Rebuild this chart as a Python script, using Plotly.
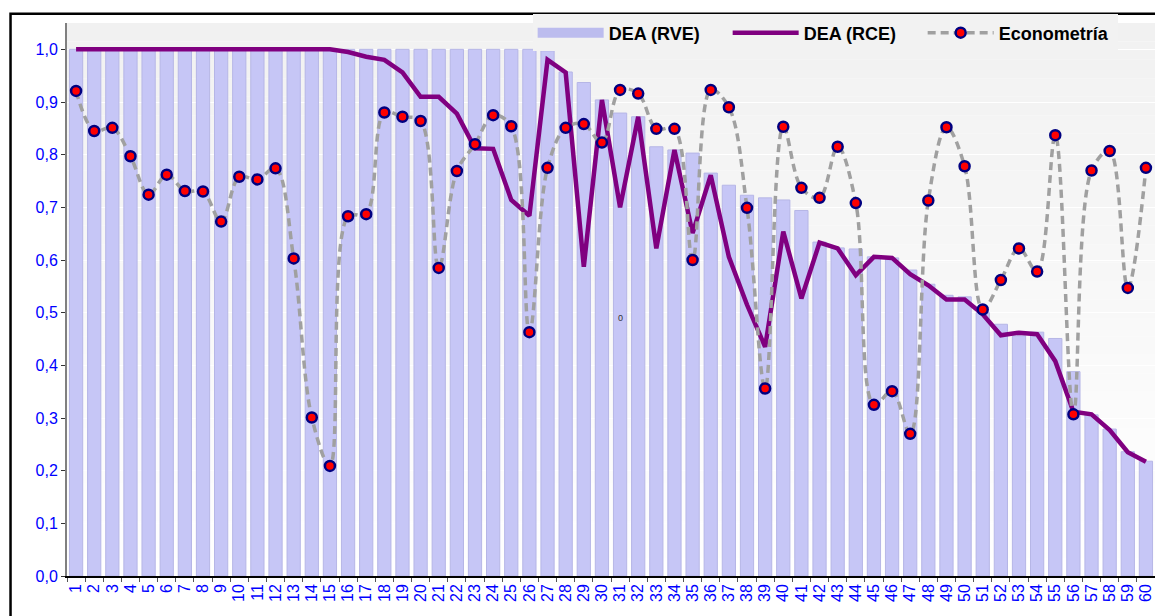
import plotly.graph_objects as go

# Unit index (1..60)
units = [str(i) for i in range(1, 61)]

# DEA efficiency scores, variable returns to scale
dea_rve = [1.000, 1.000, 1.000, 1.000, 1.000, 1.000, 1.000, 1.000, 1.000, 1.000,
           1.000, 1.000, 1.000, 1.000, 1.000, 1.000, 1.000, 1.000, 1.000, 1.000,
           1.000, 1.000, 1.000, 1.000, 1.000, 1.000, 0.997, 0.957, 0.937, 0.904,
           0.879, 0.872, 0.815, 0.809, 0.803, 0.765, 0.742, 0.723, 0.718, 0.714,
           0.694, 0.634, 0.623, 0.621, 0.606, 0.604, 0.581, 0.554, 0.533, 0.530,
           0.500, 0.478, 0.456, 0.463, 0.451, 0.388, 0.306, 0.279, 0.236, 0.218]

# DEA efficiency scores, constant returns to scale
dea_rce = [1.000, 1.000, 1.000, 1.000, 1.000, 1.000, 1.000, 1.000, 1.000, 1.000,
           1.000, 1.000, 1.000, 1.000, 1.000, 0.995, 0.986, 0.980, 0.956, 0.910,
           0.910, 0.878, 0.812, 0.811, 0.714, 0.684, 0.980, 0.956, 0.587, 0.904,
           0.700, 0.872, 0.622, 0.809, 0.651, 0.761, 0.606, 0.515, 0.435, 0.654,
           0.527, 0.633, 0.622, 0.571, 0.606, 0.604, 0.573, 0.552, 0.525, 0.525,
           0.497, 0.457, 0.462, 0.459, 0.408, 0.312, 0.307, 0.277, 0.235, 0.217]

# Econometric efficiency estimates
econometria = [0.921, 0.845, 0.851, 0.797, 0.724, 0.762, 0.731, 0.730, 0.673, 0.758,
               0.753, 0.774, 0.603, 0.301, 0.209, 0.683, 0.687, 0.880, 0.872, 0.864,
               0.585, 0.769, 0.820, 0.875, 0.854, 0.463, 0.775, 0.851, 0.858, 0.823,
               0.923, 0.916, 0.849, 0.849, 0.600, 0.923, 0.890, 0.699, 0.356, 0.853,
               0.737, 0.718, 0.815, 0.708, 0.325, 0.351, 0.270, 0.713, 0.852, 0.778,
               0.506, 0.562, 0.622, 0.578, 0.837, 0.307, 0.770, 0.807, 0.547, 0.775]

# Stray label printed inside the plot
stray_label = {"x": "30", "y": 0.49, "text": "0"}

FONT = "Liberation Sans, Arial, sans-serif"
BAR_COLOR = "#c6c6f6"
PURPLE = "#800080"

fig = go.Figure()

fig.add_trace(go.Bar(
    x=units, y=dea_rve, name="DEA (RVE)", showlegend=False,
    marker=dict(color=BAR_COLOR, line=dict(color="#b6b6e6", width=1)),
))
# legend swatch for the bars (wide band)
fig.add_trace(go.Scatter(
    x=[units[0]], y=[None], mode="lines", name="DEA (RVE)",
    line=dict(color="#bcbcee", width=14),
))
fig.add_trace(go.Scatter(
    x=units, y=dea_rce, mode="lines", name="DEA (RCE)",
    line=dict(color=PURPLE, width=4.5),
))
fig.add_trace(go.Scatter(
    x=units, y=econometria, mode="lines+markers", name="Econometría",
    line=dict(color="#a0a0a0", width=3.5, dash="8px,5px", shape="spline", smoothing=1.0),
    marker=dict(color="#ff0000", size=10, line=dict(color="#000080", width=2.5)),
))

# vertical background gradient: light gray at the top fading to white
shapes = []
n_bands = 30
for i in range(n_bands):
    t = (i + 0.5) / n_bands
    g = int(round(255 - (255 - 241) * t))
    shapes.append(dict(
        type="rect", xref="paper", yref="paper",
        x0=0, x1=1, y0=i / n_bands, y1=(i + 1) / n_bands,
        fillcolor=f"rgb({g},{g},{g})", line=dict(width=0), layer="below",
    ))
# outer black frame
shapes.append(dict(
    type="rect", xref="paper", yref="paper",
    x0=-0.0519, x1=1.05, y0=-0.3, y1=1.0166,
    line=dict(color="black", width=2.5), fillcolor="rgba(0,0,0,0)", layer="above",
))

fig.update_layout(
    width=1155, height=616,
    margin=dict(l=67, r=0, t=23, b=40),
    paper_bgcolor="white",
    plot_bgcolor="white",
    separators=",.",
    bargap=0.27,
    font=dict(family=FONT, color="#0000ff"),
    shapes=shapes,
    showlegend=True,
    legend=dict(
        orientation="h", x=0.428, xanchor="left", y=0.982, yanchor="middle",
        bgcolor="#f2f2f2", borderwidth=0,
        font=dict(family=FONT, size=18, color="black", weight="bold"),
        itemwidth=66, entrywidth=114, entrywidthmode="pixels",
        traceorder="normal",
    ),
    annotations=[dict(
        x=stray_label["x"], y=stray_label["y"], text=stray_label["text"],
        showarrow=False, font=dict(family=FONT, size=9, color="#333333"),
    )],
)

fig.update_xaxes(
    type="category", tickson="boundaries", automargin=False,
    range=[-0.5, 59.5], tickmode="array", tickvals=units, ticktext=units,
    tickangle=-90, tickfont=dict(family=FONT, size=16, color="#0000ff"),
    ticks="outside", ticklen=4, tickcolor="#555555",
    showline=True, linecolor="black", linewidth=1.5,
    showgrid=False, zeroline=False,
)
fig.update_yaxes(
    range=[0, 1.05], dtick=0.1, tick0=0, tickformat=".1f", automargin=False,
    tickfont=dict(family=FONT, size=16, color="#0000ff"),
    ticks="outside", ticklen=4, tickcolor="#333333",
    showline=True, linecolor="#808080", linewidth=2,
    showgrid=True, gridcolor="white", gridwidth=1, zeroline=False,
)

fig.write_html("out.html")
